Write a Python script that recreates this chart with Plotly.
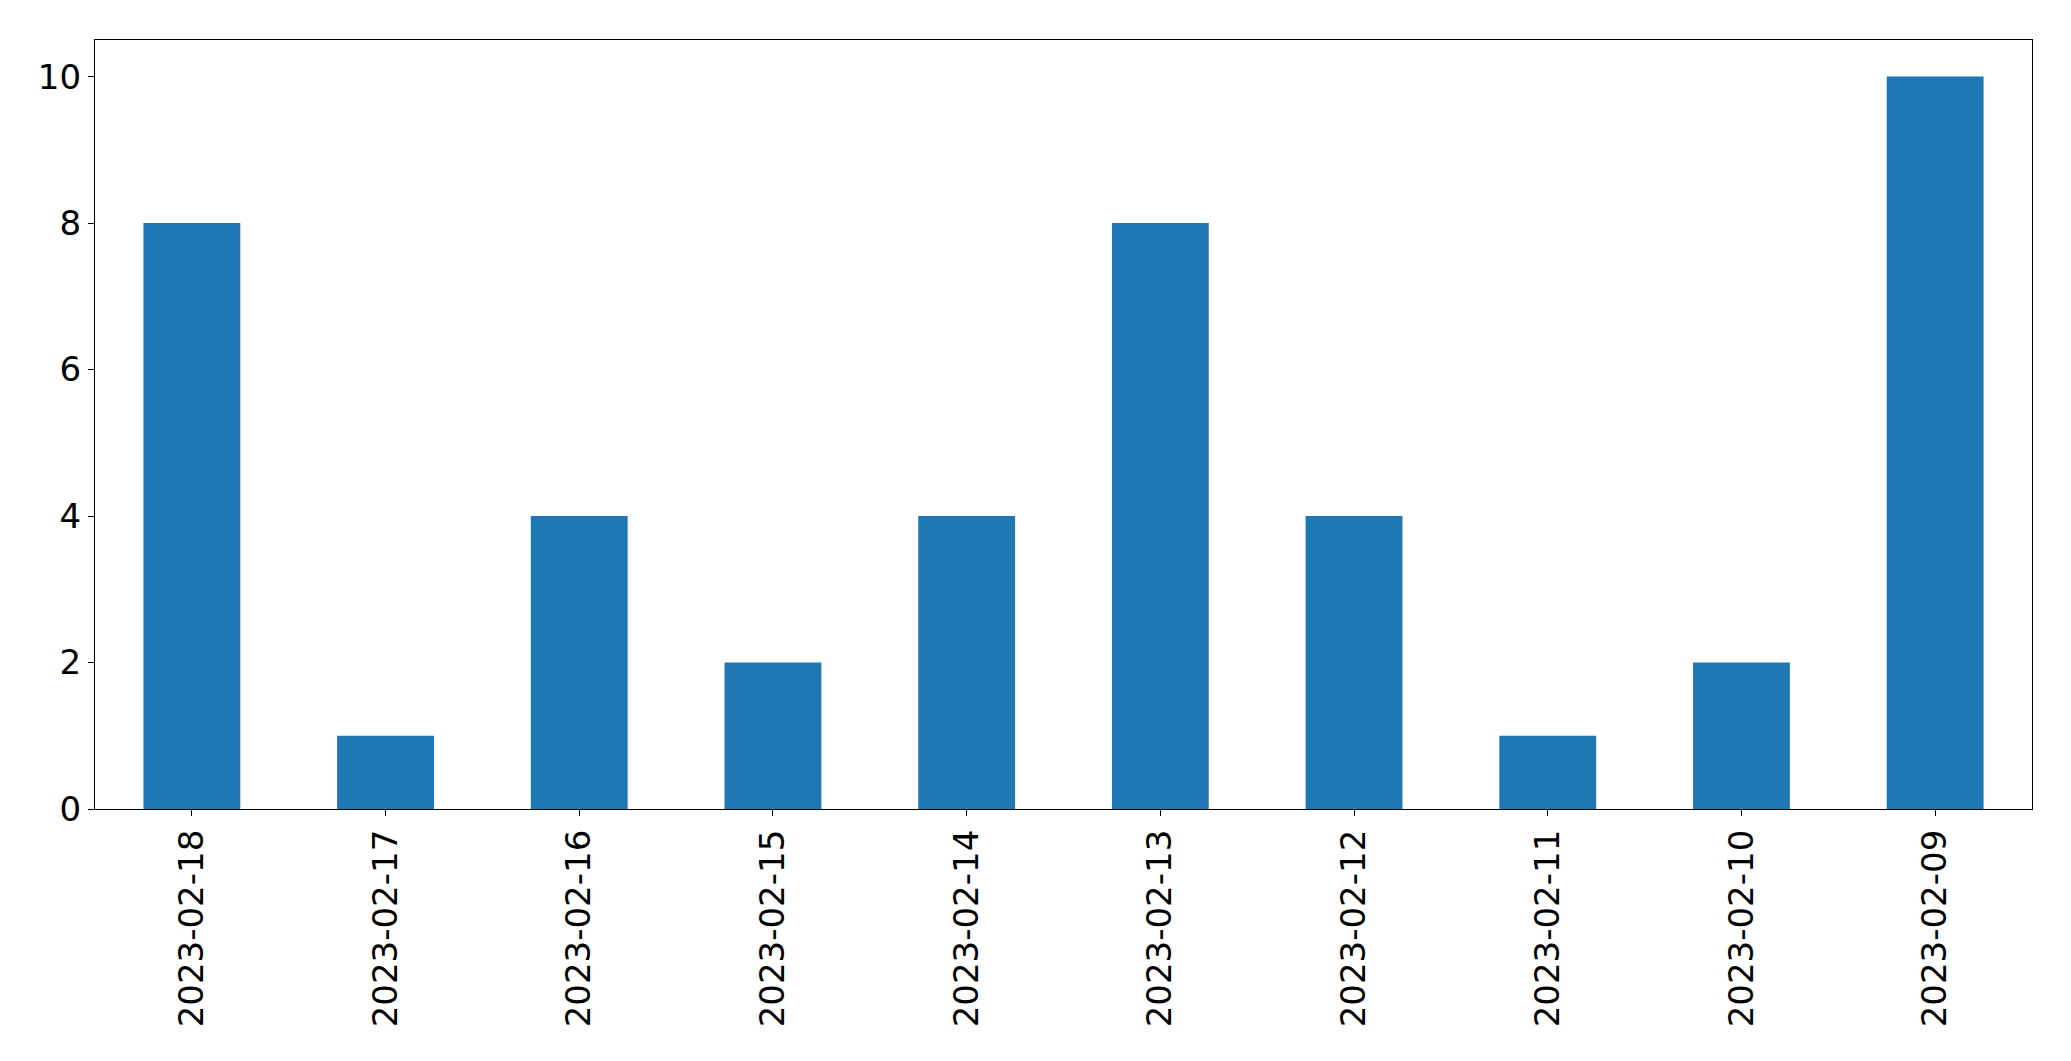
import plotly.graph_objects as go

dates = ["2023-02-18", "2023-02-17", "2023-02-16", "2023-02-15", "2023-02-14",
         "2023-02-13", "2023-02-12", "2023-02-11", "2023-02-10", "2023-02-09"]
counts = [8, 1, 4, 2, 4, 8, 4, 1, 2, 10]

fig = go.Figure(go.Bar(x=dates, y=counts, marker_color="#1f77b4", width=0.5,
                       marker_line_width=0))

fig.update_layout(
    width=2071, height=1061,
    margin=dict(l=95, r=39, t=40, b=252),
    plot_bgcolor="white", paper_bgcolor="white",
    font=dict(family="DejaVu Sans", size=34, color="black"),
    showlegend=False,
)
fig.update_xaxes(type="category", range=[-0.5, 9.5], tickangle=-90,
                 showline=True, linecolor="black", linewidth=1.3, mirror=True,
                 ticks="outside", ticklen=6, tickcolor="black", tickwidth=1.3,
                 showgrid=False, zeroline=False)
fig.update_yaxes(range=[0, 10.5], tickvals=[0, 2, 4, 6, 8, 10],
                 showline=True, linecolor="black", linewidth=1.3, mirror=True,
                 ticks="outside", ticklen=6, tickcolor="black", tickwidth=1.3,
                 showgrid=False, zeroline=False)

fig.write_html("out.html")
